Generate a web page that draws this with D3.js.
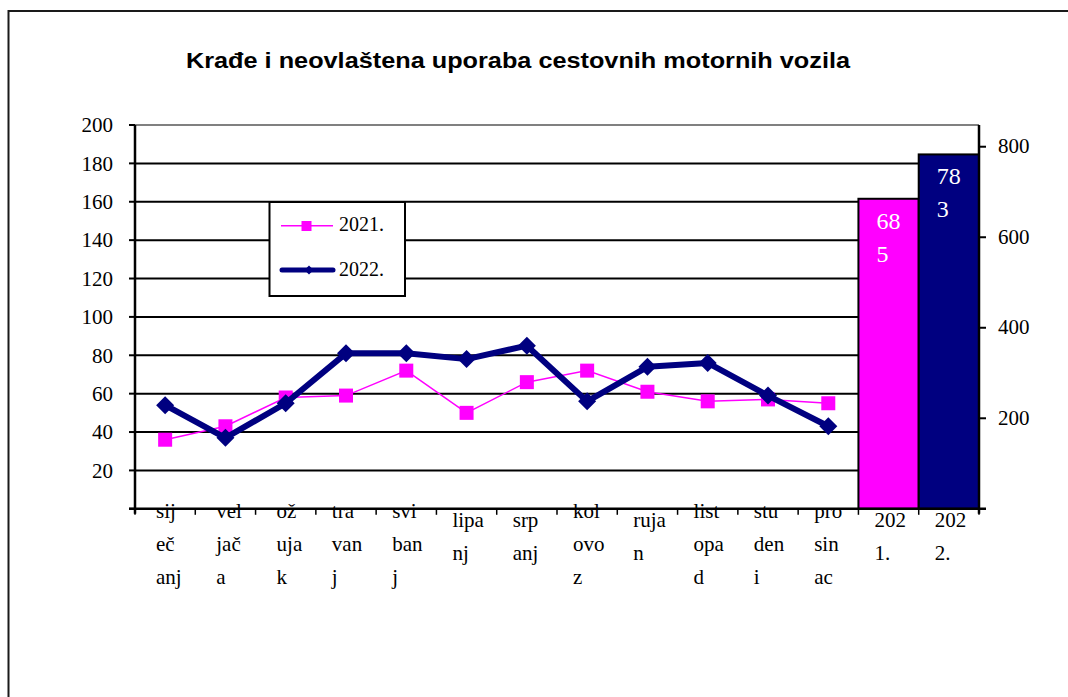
<!DOCTYPE html>
<html>
<head>
<meta charset="utf-8">
<script src="https://cdn.jsdelivr.net/npm/d3@7"></script>
<style>
  html, body { margin: 0; padding: 0; background: #fff; }
  svg { display: block; }
  .serif { font-family: "Liberation Serif", "DejaVu Serif", "Times New Roman", Times, serif; }
</style>
</head>
<body>
<svg id="chart" width="1068" height="697"></svg>
<script>
// ---------------- data ----------------
const title = "Krađe i neovlaštena uporaba cestovnih motornih vozila";
const months = ["siječanj","veljača","ožujak","travanj","svibanj","lipanj","srpanj","kolovoz","rujan","listopad","studeni","prosinac"];
const monthLabelLines = [
  ["sij","eč","anj"], ["vel","jač","a"], ["ož","uja","k"], ["tra","van","j"],
  ["svi","ban","j"], ["lipa","nj"], ["srp","anj"], ["kol","ovo","z"],
  ["ruja","n"], ["list","opa","d"], ["stu","den","i"], ["pro","sin","ac"]
];
const years = ["2021.", "2022."];
const yearLabelLines = [["202","1."], ["202","2."]];
const values2021 = [36, 43, 58, 59, 72, 50, 66, 72, 61, 56, 57, 55];
const values2022 = [54, 37, 55, 81, 81, 78, 85, 56, 74, 76, 59, 43];
const totals = [685, 783];
const leftTicks = [20, 40, 60, 80, 100, 120, 140, 160, 180, 200];
const rightTicks = [200, 400, 600, 800];
const seriesNames = ["2021.", "2022."];
const colors = ["#FF00FF", "#000080"];

// ---------------- layout ----------------
const svg = d3.select("#chart");
const plot = { left: 135, right: 979, top: 125, bottom: 508.8 };

const categories = months.concat(years);
const x = d3.scaleBand().domain(categories).range([plot.left, plot.right]).padding(0);
const yL = d3.scaleLinear().domain([0, 200]).range([plot.bottom, plot.top]);
const yR = d3.scaleLinear().domain([0, 848]).range([plot.bottom, plot.top]);

// outer border
svg.append("rect")
  .attr("x", 8.5).attr("y", 11).attr("width", 1100).attr("height", 720)
  .attr("fill", "none").attr("stroke", "#1a1a1a").attr("stroke-width", 2);

// title
svg.append("text")
  .attr("x", 186).attr("y", 68)
  .attr("textLength", 664).attr("lengthAdjust", "spacingAndGlyphs")
  .style("font-family", "'Liberation Sans', Arial, sans-serif")
  .attr("font-weight", "bold").attr("font-size", 22)
  .attr("fill", "#000")
  .text(title);

// gridlines
svg.append("g").selectAll("line")
  .data(leftTicks.filter(d => d < 200))
  .join("line")
  .attr("x1", plot.left).attr("x2", plot.right)
  .attr("y1", d => yL(d)).attr("y2", d => yL(d))
  .attr("stroke", "#000").attr("stroke-width", 2);

// top border of plot area
svg.append("line")
  .attr("x1", plot.left).attr("x2", plot.right)
  .attr("y1", yL(200)).attr("y2", yL(200))
  .attr("stroke", "#808080").attr("stroke-width", 2);

// bars (annual totals, right axis)
svg.append("g").selectAll("rect")
  .data(years.map((y, i) => ({ y, v: totals[i], c: colors[i] })))
  .join("rect")
  .attr("x", d => x(d.y)).attr("width", x.bandwidth())
  .attr("y", d => yR(d.v)).attr("height", d => yR(0) - yR(d.v))
  .attr("fill", d => d.c).attr("stroke", "#000").attr("stroke-width", 2);

// bar value labels (wrapped)
years.forEach((yy, i) => {
  const s = String(totals[i]);
  const parts = [s.slice(0, 2), s.slice(2)];
  const t = svg.append("text").attr("class", "serif")
    .attr("font-size", 24).attr("fill", "#fff");
  parts.forEach((p, j) => {
    t.append("tspan")
      .attr("x", x(yy) + 18)
      .attr("y", yR(totals[i]) + 30 + j * 33)
      .text(p);
  });
});

// left axis line
svg.append("line")
  .attr("x1", plot.left).attr("x2", plot.left)
  .attr("y1", plot.top).attr("y2", plot.bottom + 5)
  .attr("stroke", "#000").attr("stroke-width", 2.5);

// left ticks + labels
const lt = svg.append("g");
lt.selectAll("line").data([0].concat(leftTicks)).join("line")
  .attr("x1", plot.left - 6).attr("x2", plot.left)
  .attr("y1", d => yL(d)).attr("y2", d => yL(d))
  .attr("stroke", "#000").attr("stroke-width", 2);
lt.selectAll("text").data(leftTicks).join("text")
  .attr("class", "serif")
  .attr("x", plot.left - 22).attr("y", d => yL(d))
  .attr("dy", "0.35em").attr("text-anchor", "end")
  .attr("font-size", 21).attr("fill", "#000")
  .text(d => d);

// right axis line
svg.append("line")
  .attr("x1", plot.right).attr("x2", plot.right)
  .attr("y1", plot.top).attr("y2", plot.bottom + 5)
  .attr("stroke", "#000").attr("stroke-width", 2.5);
const rt = svg.append("g");
rt.selectAll("line").data(rightTicks).join("line")
  .attr("x1", plot.right).attr("x2", plot.right + 7)
  .attr("y1", d => yR(d)).attr("y2", d => yR(d))
  .attr("stroke", "#000").attr("stroke-width", 2);
rt.selectAll("text").data(rightTicks).join("text")
  .attr("class", "serif")
  .attr("x", plot.right + 19).attr("y", d => yR(d))
  .attr("dy", "0.3em").attr("text-anchor", "start")
  .attr("font-size", 21).attr("fill", "#000")
  .text(d => d);

// x axis line
svg.append("line")
  .attr("x1", plot.left - 6).attr("x2", plot.right + 7)
  .attr("y1", plot.bottom).attr("y2", plot.bottom)
  .attr("stroke", "#000").attr("stroke-width", 2.5);

// x ticks at category boundaries
const bounds = categories.map(c => x(c)).concat([plot.right]);
svg.append("g").selectAll("line").data(bounds).join("line")
  .attr("x1", d => d).attr("x2", d => d)
  .attr("y1", plot.bottom).attr("y2", plot.bottom + 6)
  .attr("stroke", "#000").attr("stroke-width", 1.5);

// category labels (wrapped, left aligned inside band)
const allLines = monthLabelLines.concat(yearLabelLines);
categories.forEach((c, i) => {
  const lines = allLines[i];
  const off = i < 3 ? 21 : 16;
  const y0 = 545 - 9 * lines.length;
  const t = svg.append("text").attr("class", "serif")
    .attr("font-size", 21).attr("fill", "#000");
  lines.forEach((ln, j) => {
    t.append("tspan").attr("x", x(c) + off).attr("y", y0 + j * 33).text(ln);
  });
});

// lines
const cx = m => x(m) + x.bandwidth() / 2;
const line = d3.line().x(d => cx(d.m)).y(d => yL(d.v));
const d2021 = months.map((m, i) => ({ m, v: values2021[i] }));
const d2022 = months.map((m, i) => ({ m, v: values2022[i] }));

svg.append("path").datum(d2021).attr("d", line)
  .attr("fill", "none").attr("stroke", colors[0]).attr("stroke-width", 1.5);
svg.append("g").selectAll("rect").data(d2021).join("rect")
  .attr("x", d => cx(d.m) - 7).attr("y", d => yL(d.v) - 7)
  .attr("width", 14).attr("height", 14).attr("fill", colors[0]);

svg.append("path").datum(d2022).attr("d", line)
  .attr("fill", "none").attr("stroke", colors[1]).attr("stroke-width", 6)
  .attr("stroke-linejoin", "round");
const diamond = (s) => `M0,${-s}L${s},0L0,${s}L${-s},0Z`;
svg.append("g").selectAll("path").data(d2022).join("path")
  .attr("transform", d => `translate(${cx(d.m)},${yL(d.v)})`)
  .attr("d", diamond(9)).attr("fill", colors[1]);

// legend
const lg = svg.append("g");
lg.append("rect").attr("x", 269.5).attr("y", 202).attr("width", 135.5).attr("height", 94)
  .attr("fill", "#fff").attr("stroke", "#000").attr("stroke-width", 2);
lg.append("line").attr("x1", 281).attr("x2", 333).attr("y1", 225.7).attr("y2", 225.7)
  .attr("stroke", colors[0]).attr("stroke-width", 1.5);
lg.append("rect").attr("x", 301.5).attr("y", 221).attr("width", 10).attr("height", 10)
  .attr("fill", colors[0]);
lg.append("line").attr("x1", 282).attr("x2", 333).attr("y1", 270).attr("y2", 270)
  .attr("stroke", colors[1]).attr("stroke-width", 5).attr("stroke-linecap", "round");
lg.append("path").attr("transform", "translate(309,270)").attr("d", diamond(4.5))
  .attr("fill", colors[1]);
lg.selectAll("text").data(seriesNames).join("text")
  .attr("class", "serif")
  .attr("x", 339).attr("y", (d, i) => 231 + i * 44.5)
  .attr("font-size", 20).attr("fill", "#000")
  .text(d => d);
</script>
</body>
</html>
